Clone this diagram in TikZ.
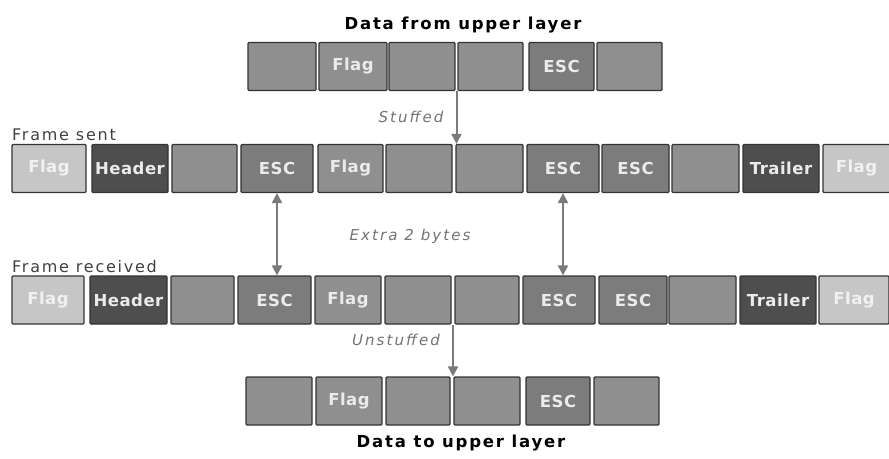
\documentclass[tikz,border=0pt]{standalone}
\usepackage{fontspec}
\setmainfont{DejaVu Sans}[LetterSpace=11]
\usetikzlibrary{arrows.meta,calc}
\definecolor{flaglite}{HTML}{C6C6C6}
\definecolor{hdrdark}{HTML}{4E4E4E}
\definecolor{bytegray}{HTML}{8F8F8F}
\definecolor{escgray}{HTML}{7C7C7C}
\definecolor{arrowgray}{HTML}{7A7A7A}
\tikzset{
  byte/.style={draw=black!80, line width=1.2pt, rounded corners=1pt, minimum height=48pt,
    inner sep=0pt, text=white!92!black,
    font=\fontsize{16.5}{16.5}\selectfont\bfseries\addfontfeature{LetterSpace=3}},
  lite/.style={byte, fill=flaglite, text=white!75!flaglite},
  dark/.style={byte, fill=hdrdark},
  datab/.style={byte, fill=bytegray},
  escb/.style={byte, fill=escgray},
  arr/.style={draw=arrowgray, line width=2pt, -{Triangle[width=10pt,length=10pt]}},
  dbl/.style={arr, {Triangle[width=10pt,length=10pt]}-{Triangle[width=10pt,length=10pt]}},
  note/.style={text=black!55, font=\fontsize{15}{15}\selectfont\itshape\addfontfeature{LetterSpace=14}},
  ttl/.style={font=\fontsize{16.5}{16.5}\selectfont\bfseries},
  lbl/.style={anchor=west, inner sep=0pt, text=black!75, font=\fontsize{16}{16}\selectfont}
}
\begin{document}
\begin{tikzpicture}[x=1pt,y=-1pt]
          \useasboundingbox (0,0) rectangle (889,458);

          % data from upper layer
          \node[ttl] (top) at (463,25) {Data from upper layer};
          \node[datab,minimum width=68pt] (d1) at (282,66.5) {};
          \node[datab,minimum width=68pt] (d2) at (353,66.5) {Flag};
          \node[datab,minimum width=66pt] (d3) at (422,66.5) {};
          \node[datab,minimum width=65pt] (d4) at (490.5,66.5) {};
          \node[escb,minimum width=65pt] (d5) at (561.5,66.5) {ESC};
          \node[datab,minimum width=65pt] (d6) at (629.5,66.5) {};

          % frame sent
          \node[lbl] (sent) at (12,135) {Frame sent};
          \node[lite,minimum width=74pt] (s1) at (49,168.5) {Flag};
          \node[dark,minimum width=76pt] (s2) at (130,168.5) {Header};
          \node[datab,minimum width=65pt] (s3) at (204.5,168.5) {};
          \node[escb,minimum width=72pt] (s4) at (277,168.5) {ESC};
          \node[datab,minimum width=65pt] (s5) at (350.5,168.5) {Flag};
          \node[datab,minimum width=66pt] (s6) at (419,168.5) {};
          \node[datab,minimum width=67pt] (s7) at (489.5,168.5) {};
          \node[escb,minimum width=72pt] (s8) at (563,168.5) {ESC};
          \node[escb,minimum width=67pt] (s9) at (635.5,168.5) {ESC};
          \node[datab,minimum width=67pt] (s10) at (705.5,168.5) {};
          \node[dark,minimum width=76pt] (s11) at (781,168.5) {Trailer};
          \node[lite,minimum width=67pt] (s12) at (856.5,168.5) {Flag};

          % frame received
          \node[lbl] (recv) at (12,267) {Frame received};
          \node[lite,minimum width=72pt] (r1) at (48,300) {Flag};
          \node[dark,minimum width=77pt] (r2) at (128.5,300) {Header};
          \node[datab,minimum width=63pt] (r3) at (202.5,300) {};
          \node[escb,minimum width=73pt] (r4) at (274.5,300) {ESC};
          \node[datab,minimum width=66pt] (r5) at (348,300) {Flag};
          \node[datab,minimum width=66pt] (r6) at (418,300) {};
          \node[datab,minimum width=64pt] (r7) at (487,300) {};
          \node[escb,minimum width=72pt] (r8) at (559,300) {ESC};
          \node[escb,minimum width=68pt] (r9) at (633,300) {ESC};
          \node[datab,minimum width=67pt] (r10) at (702.5,300) {};
          \node[dark,minimum width=76pt] (r11) at (778,300) {Trailer};
          \node[lite,minimum width=70pt] (r12) at (854,300) {Flag};

          % data to upper layer
          \node[datab,minimum width=66pt] (u1) at (279,401) {};
          \node[datab,minimum width=66pt] (u2) at (349,401) {Flag};
          \node[datab,minimum width=64pt] (u3) at (418,401) {};
          \node[datab,minimum width=66pt] (u4) at (487,401) {};
          \node[escb,minimum width=64pt] (u5) at (558,401) {ESC};
          \node[datab,minimum width=65pt] (u6) at (626.5,401) {};
          \node[ttl] (bot) at (461,443) {Data to upper layer};

          \node[note] (stf) at (411,117) {Stuffed};
          \node[note] (xtra) at (410,236) {Extra 2 bytes};
          \node[note] (ustf) at (396,340) {Unstuffed};

          \coordinate (sin) at ($(d3.south east)!.5!(d4.south west)$);
          \coordinate (sout) at ($(r6.south east)!.5!(r7.south west)$);
          \draw[arr] (sin) -- (sin |- s7.north);
          \draw[dbl] (s4.south) -- (s4.south |- r4.north);
          \draw[dbl] (s8.south) -- (s8.south |- r8.north);
          \draw[arr] (sout) -- (sout |- u4.north);
\end{tikzpicture}
\end{document}
